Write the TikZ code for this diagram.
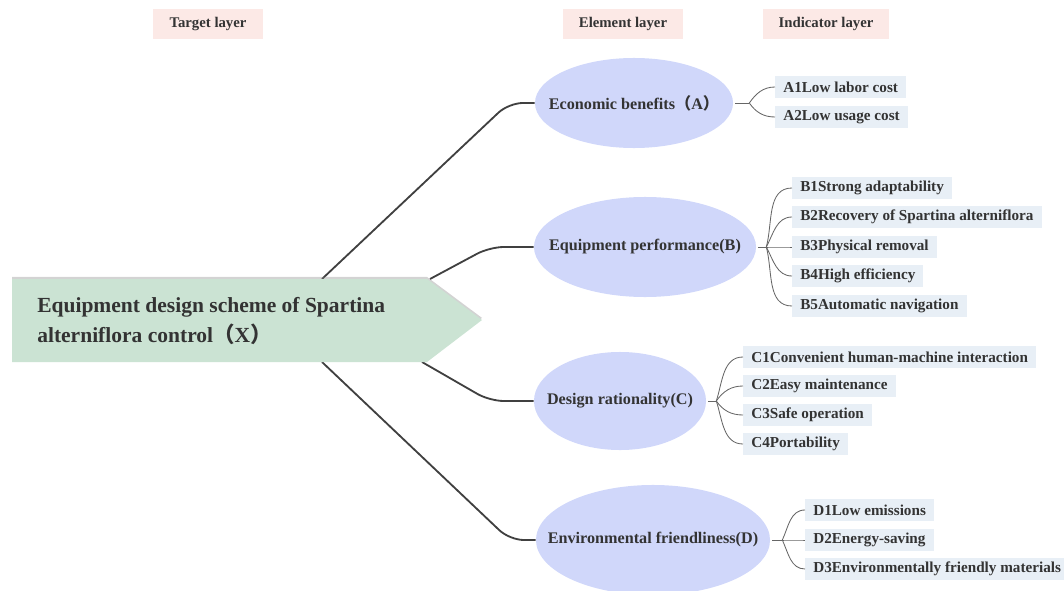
\documentclass[tikz,border=0pt]{standalone}
\usepackage{fontspec}
\setmainfont{Liberation Serif}
\newfontfamily\cjkfont{Noto Sans CJK SC}
\usetikzlibrary{
  positioning,
  shapes.geometric,
  shadows,
  calc
}
\definecolor{layer}{RGB}{252,233,230}
\definecolor{target}{RGB}{203,227,211}
\definecolor{element}{RGB}{208,215,250}
\definecolor{indic}{RGB}{232,239,246}
\definecolor{ink}{RGB}{51,51,51}
\definecolor{trunk}{RGB}{64,64,64}
\newcommand{\fw}[1]{{\cjkfont #1}}
\newcommand{\slim}[1]{\makebox[0pt]{#1}}

\begin{document}
\begin{tikzpicture}[
  x=0.025cm, y=0.025cm,
  every node/.style={text=ink},
  layer/.style={fill=layer, minimum width=2.75cm, minimum height=0.75cm,
                font=\bfseries\fontsize{10.5}{12}\selectfont},
  elem/.style={ellipse, fill=element, inner sep=0pt,
               font=\bfseries\fontsize{11.5}{14}\selectfont},
  indic/.style={fill=indic, anchor=west, inner xsep=0.2cm, inner ysep=0pt,
                minimum height=0.53cm, font=\bfseries\fontsize{10.8}{13}\selectfont},
  trunk/.style={draw=trunk, line width=1.3pt, rounded corners=10pt},
  twig/.style={draw=ink!75, line width=0.6pt}
]
\useasboundingbox (0,0) rectangle (1064,-591);
\clip (0,0) rectangle (1064,-591);

% Layer headings
\node[layer] (tl) at (208,-24) {Target layer};
\node[layer, minimum width=3cm] (el) at (623,-24) {Element layer};
\node[layer, minimum width=3.15cm] (il) at (826,-24) {Indicator layer};

% Element layer
\node[elem, minimum width=4.95cm, minimum height=2.25cm] (A) at (634,-103)
  {\slim{Economic benefits\fw{（}A\fw{）}}};
\node[elem, minimum width=5.55cm, minimum height=2.5cm] (B) at (645,-247)
  {\slim{Equipment performance(B)}};
\node[elem, minimum width=4.3cm, minimum height=2.45cm] (C) at (620,-401)
  {\slim{Design rationality(C)}};
\node[elem, minimum width=5.85cm, minimum height=2.75cm] (D) at (653,-540)
  {\slim{Environmental friendliness(D)}};

% Target layer edge points
\coordinate (xa) at (322,-279);
\coordinate (xb) at (430,-279);
\coordinate (xc) at (422,-362);
\coordinate (xd) at (322,-362);

\draw[trunk] (xa) -- ([xshift=-0.65cm]A.west) -- (A.west);
\draw[trunk] (xb) -- ([xshift=-1.1cm]B.west) -- (B.west);
\draw[trunk] (xc) -- ([xshift=-1.1cm]C.west) -- (C.west);
\draw[trunk] (xd) -- ([xshift=-0.65cm]D.west) -- (D.west);

% Target layer
\fill[target, drop shadow={shadow xshift=0pt, shadow yshift=1.5pt, opacity=0.35}]
  (12,-279) -- (427,-279) -- (482,-320) -- (427,-362) -- (12,-362) -- cycle;
\node[anchor=west, inner sep=0pt, align=left,
      font=\bfseries\fontsize{15.3}{20.8}\selectfont] (X) at (37,-321)
  {Equipment design scheme of Spartina\\alterniflora control\fw{（}X\fw{）}};

% Indicator layer
\foreach \n/\x/\y/\t in {A1/775/87/A1Low labor cost, A2/775/117/A2Low usage cost,
    B1/792/188/B1Strong adaptability, B2/792/217/B2Recovery of Spartina alterniflora,
    B3/792/247/B3Physical removal, B4/792/276/B4High efficiency,
    B5/792/306/B5Automatic navigation,
    C1/743/357/C1Convenient human-machine interaction, C2/743/386/C2Easy maintenance,
    C3/743/415/C3Safe operation, C4/743/444/C4Portability,
    D1/805/510/D1Low emissions, D2/805/540/D2Energy-saving,
    D3/805/569/D3Environmentally friendly materials} {
  \node[indic] (\n) at (\x,-\y) {\t};
}

% Junctions
\coordinate (Aj) at ([xshift=0.4cm]A.east);
\coordinate (Bj) at ([xshift=0.25cm]B.east);
\coordinate (Cj) at ([xshift=0.25cm]C.east);
\coordinate (Dj) at ([xshift=0.3cm]D.east);

\foreach \e in {A,B,C,D} {
  \draw[twig] ([xshift=1.5pt]\e.east) -- (\e j);
}

\foreach \e/\n/\a in {A/A1/55, A/A2/-55,
    B/B1/75, B/B2/62, B/B3/0, B/B4/-62, B/B5/-75,
    C/C1/72, C/C2/55, C/C3/-55, C/C4/-72,
    D/D1/65, D/D2/0, D/D3/-65} {
  \draw[twig] (\e j) to[out=\a, in=180] (\n.west);
}

\end{tikzpicture}
\end{document}
